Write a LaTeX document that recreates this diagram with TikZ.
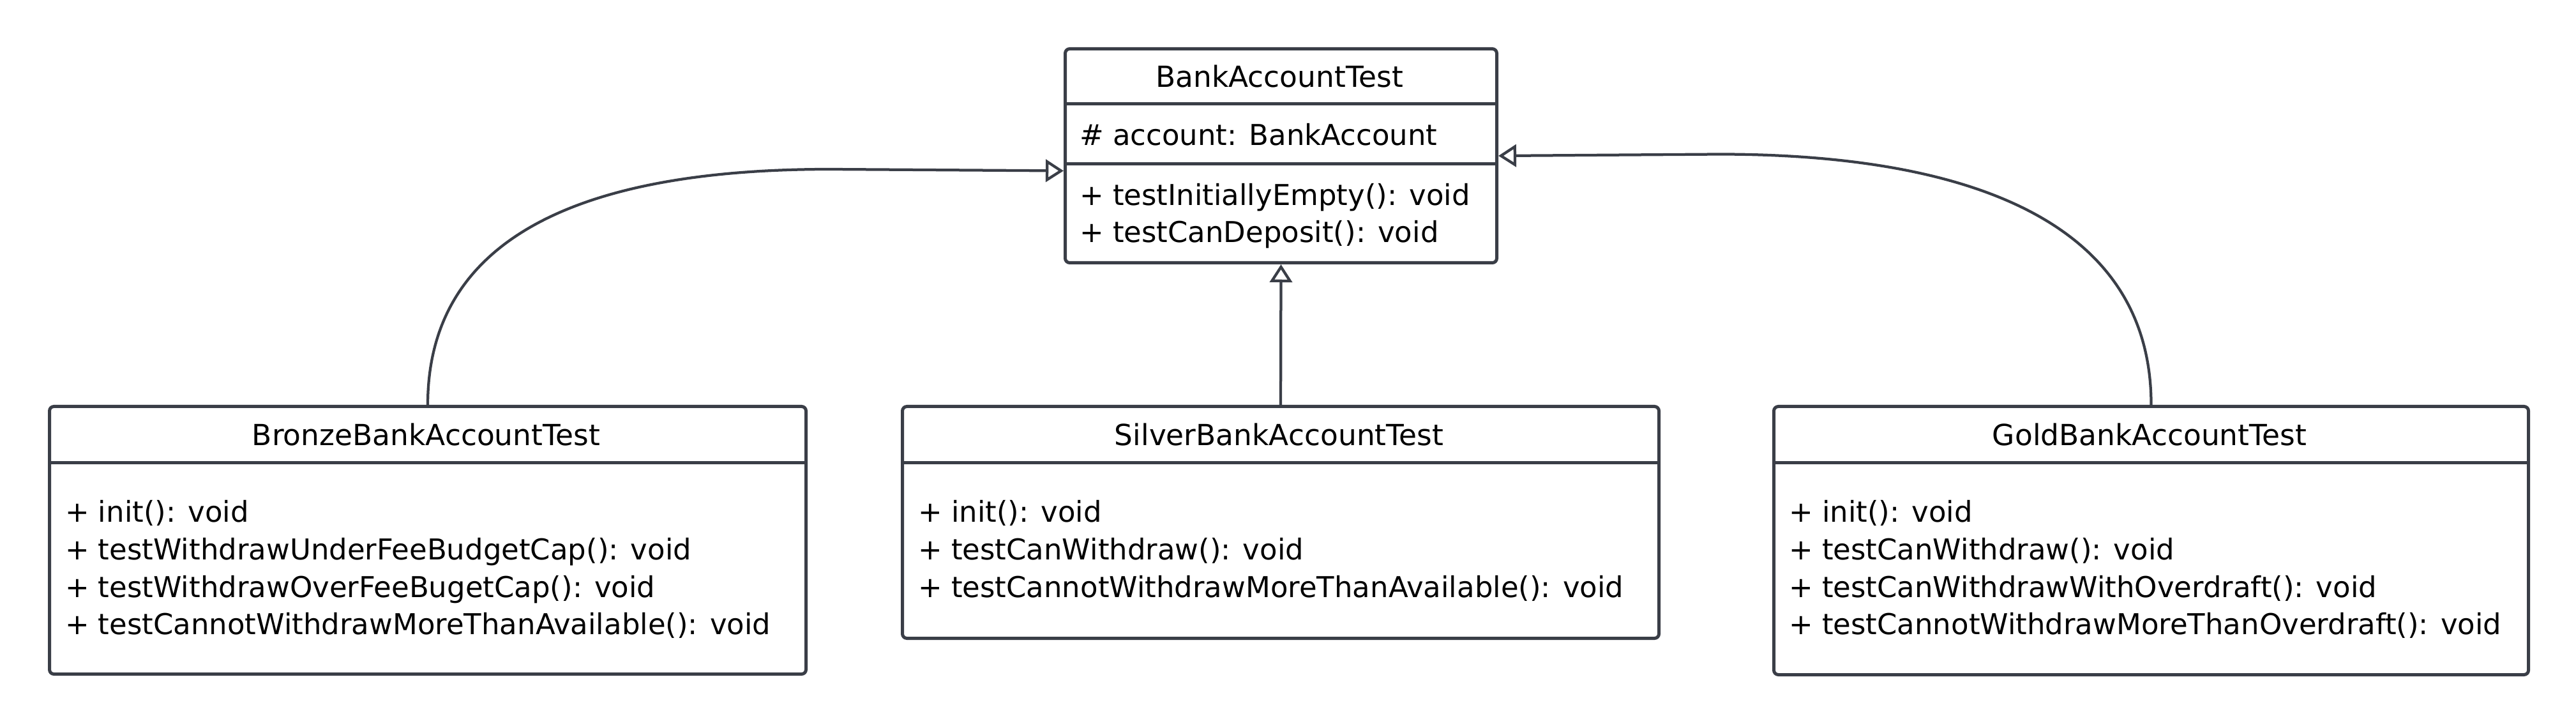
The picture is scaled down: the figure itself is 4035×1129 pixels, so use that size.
\documentclass[tikz,border=0pt]{standalone}
\usepackage{fontspec}
\setmainfont{DejaVu Sans}
\usetikzlibrary{arrows.meta,calc}
\definecolor{edgecol}{HTML}{3A3E47}
\begin{document}
\begin{tikzpicture}[x=0.2pt,y=-0.2pt,
  box/.style={draw=edgecol, line width=1pt, rounded corners=1.4pt, fill=white, inner sep=0pt, anchor=north west},
  divider/.style={draw=edgecol, line width=1pt},
  ctitle/.style={font=\fontsize{9.1pt}{11pt}\selectfont, anchor=base, inner sep=0pt},
  member/.style={font=\fontsize{9.0pt}{11pt}\selectfont, anchor=base west, inner sep=0pt},
  inh/.style={draw=edgecol, line width=0.85pt, -{Triangle[open, length=5.6pt, width=7pt, line width=0.85pt]}}
]
\useasboundingbox[fill=white] (0,0) rectangle (4035,1129);

% boxes
\node[box, minimum width=135.2pt, minimum height=67pt] (top) at (1666,74) {};
\node[box, minimum width=237pt, minimum height=83.8pt] (bronze) at (75,634) {};
\node[box, minimum width=237pt, minimum height=72.6pt] (silver) at (1411,634) {};
\node[box, minimum width=236.4pt, minimum height=84pt] (gold) at (2776,634) {};

% dividers
\draw[divider] ($(top.north west)+(0,89)$) -- ($(top.north east)+(0,89)$);
\draw[divider] ($(top.north west)+(0,183)$) -- ($(top.north east)+(0,183)$);
\draw[divider] ($(bronze.north west)+(0,91)$) -- ($(bronze.north east)+(0,91)$);
\draw[divider] ($(silver.north west)+(0,91)$) -- ($(silver.north east)+(0,91)$);
\draw[divider] ($(gold.north west)+(0,91)$) -- ($(gold.north east)+(0,91)$);

% top class texts
\node[ctitle] (topT) at (2004,137) {BankAccountTest};
\node[member] (topA) at (1690,228) {\# account: BankAccount};
\node[member] (topM1) at (1690,322) {+ testInitiallyEmpty(): void};
\node[member] (topM2) at (1690,380) {+ testCanDeposit(): void};

% bronze
\node[ctitle] (bronzeT) at (667.5,698) {BronzeBankAccountTest};
\node[member] (bronzeM1) at (101,818) {+ init(): void};
\node[member] (bronzeM2) at (101,877) {+ testWithdrawUnderFeeBudgetCap(): void};
\node[member] (bronzeM3) at (101,935) {+ testWithdrawOverFeeBugetCap(): void};
\node[member] (bronzeM4) at (101,993) {+ testCannotWithdrawMoreThanAvailable(): void};

% silver
\node[ctitle] (silverT) at (2003.5,698) {SilverBankAccountTest};
\node[member] (silverM1) at (1437,818) {+ init(): void};
\node[member] (silverM2) at (1437,877) {+ testCanWithdraw(): void};
\node[member] (silverM3) at (1437,935) {+ testCannotWithdrawMoreThanAvailable(): void};

% gold
\node[ctitle] (goldT) at (3367,698) {GoldBankAccountTest};
\node[member] (goldM1) at (2801,818) {+ init(): void};
\node[member] (goldM2) at (2801,877) {+ testCanWithdraw(): void};
\node[member] (goldM3) at (2801,935) {+ testCanWithdrawWithOverdraft(): void};
\node[member] (goldM4) at (2801,993) {+ testCannotWithdrawMoreThanOverdraft(): void};

% connectors
\coordinate (bzmid) at (1300,265);
\coordinate (gdmid) at (2693,241.5);
\draw[inh] (silver.north) -- (top.south);
\draw[inh] (bronze.north) .. controls ($(bronze.north)+(0,-288)$) and (960,265) .. (bzmid) -- ($(top.west)+(0,23.5)$);
\draw[inh] (gold.north) .. controls ($(gold.north)+(0,-304)$) and (3050,241.5) .. (gdmid) -- (top.east);
\end{tikzpicture}
\end{document}
